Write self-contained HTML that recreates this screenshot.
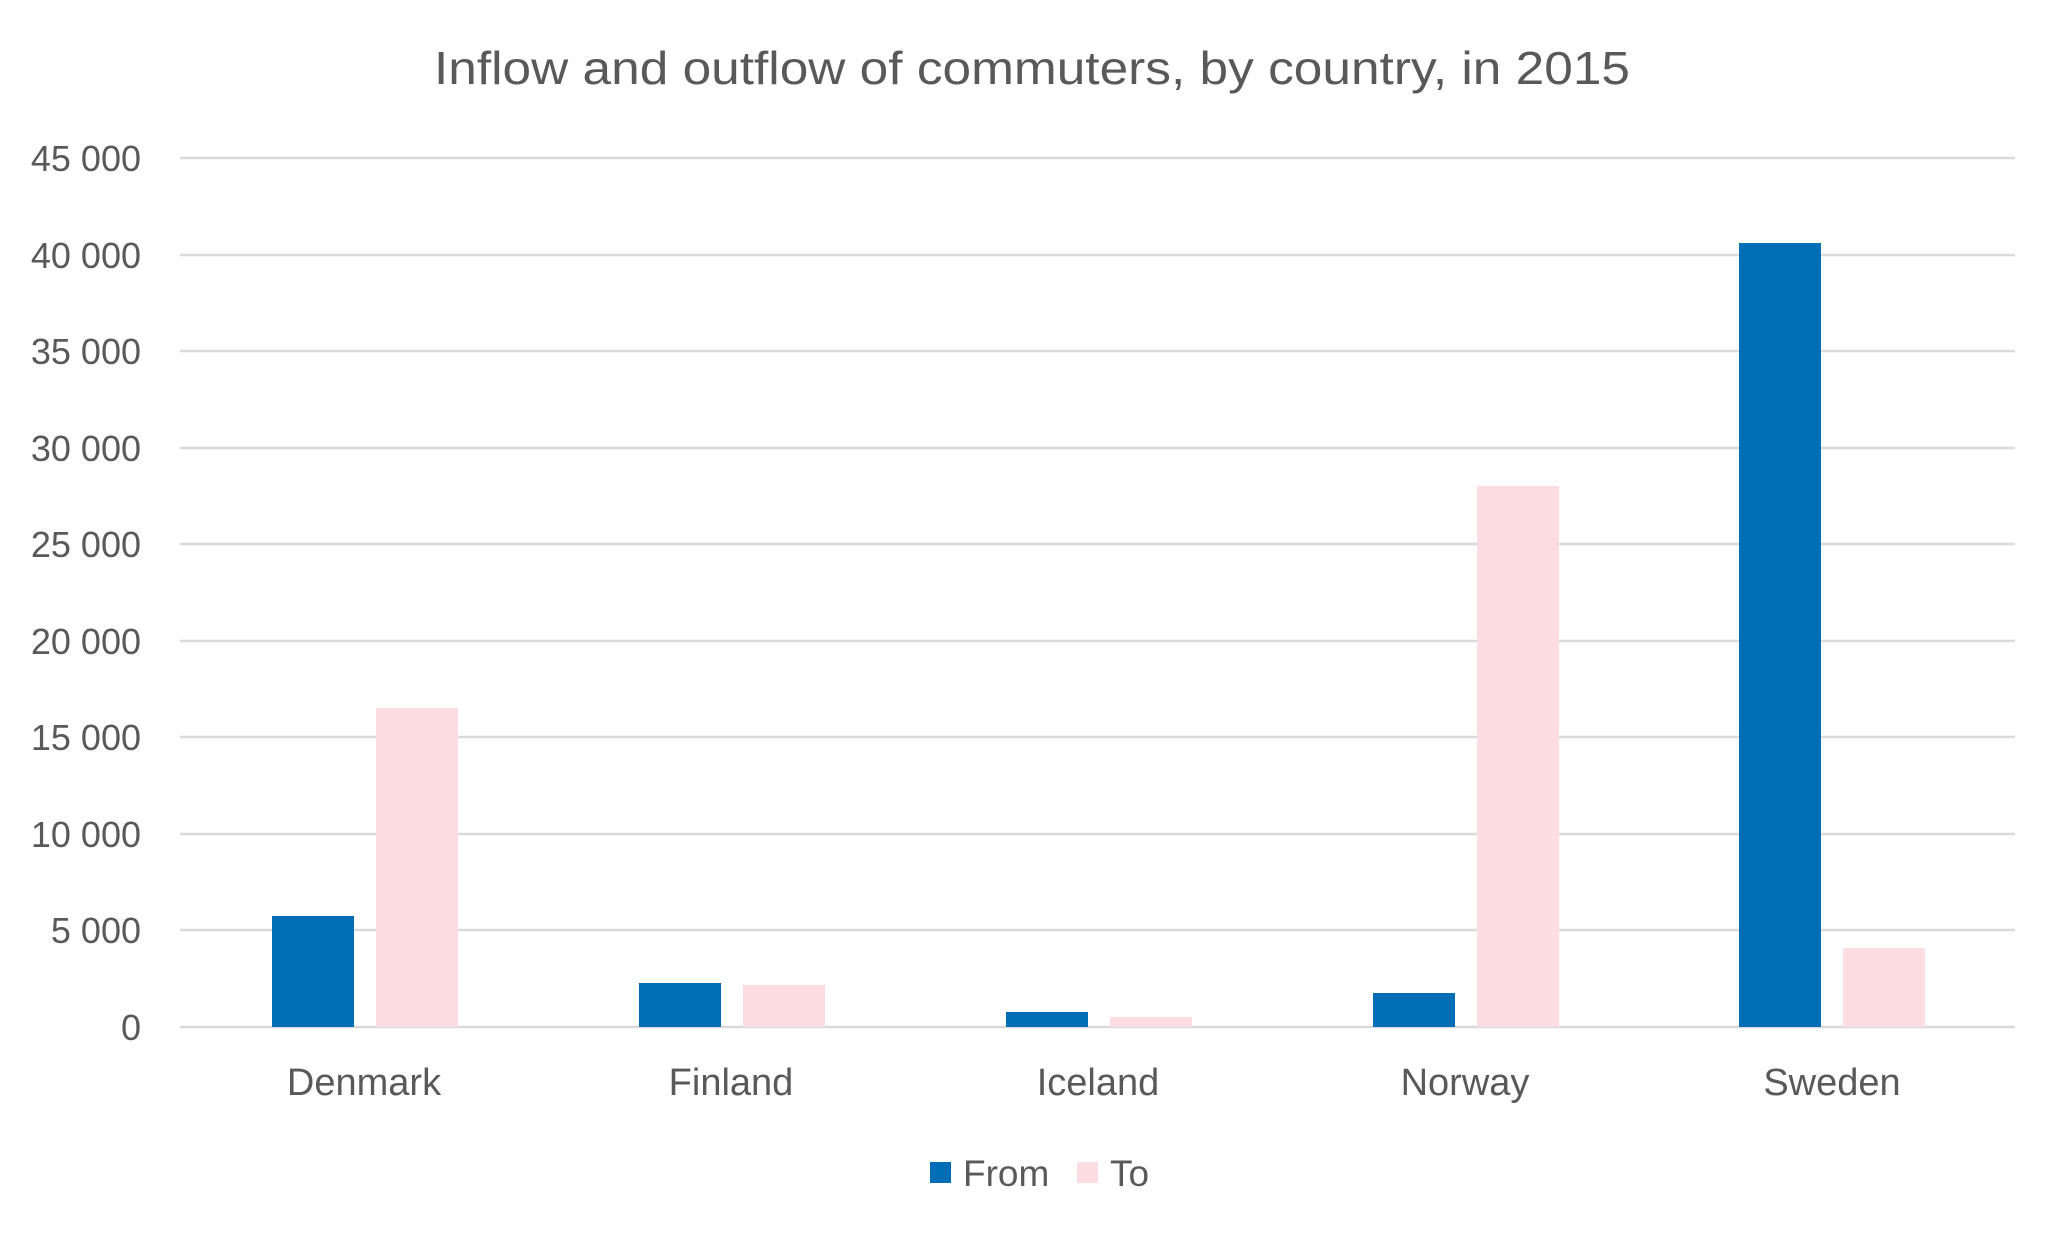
<!DOCTYPE html>
<html><head><meta charset="utf-8"><style>body{margin:0;background:#fff}svg{display:block}</style></head>
<body>
<svg width="2065" height="1239" xmlns="http://www.w3.org/2000/svg" font-family="Liberation Sans, sans-serif" fill="#595959">
<rect width="2065" height="1239" fill="#fff"/>
<text x="1032" y="84" font-size="46" text-anchor="middle" textLength="1196" lengthAdjust="spacingAndGlyphs">Inflow and outflow of commuters, by country, in 2015</text>
<g stroke="#d9d9d9" stroke-width="2.5">
<line x1="180" x2="2015" y1="158" y2="158"/>
<line x1="180" x2="2015" y1="255" y2="255"/>
<line x1="180" x2="2015" y1="351" y2="351"/>
<line x1="180" x2="2015" y1="448" y2="448"/>
<line x1="180" x2="2015" y1="544" y2="544"/>
<line x1="180" x2="2015" y1="641" y2="641"/>
<line x1="180" x2="2015" y1="737" y2="737"/>
<line x1="180" x2="2015" y1="834" y2="834"/>
<line x1="180" x2="2015" y1="930" y2="930"/>
<line x1="180" x2="2015" y1="1027" y2="1027"/>
</g>
<g font-size="36" text-anchor="end">
<text x="141" y="171">45 000</text>
<text x="141" y="268">40 000</text>
<text x="141" y="364">35 000</text>
<text x="141" y="461">30 000</text>
<text x="141" y="557">25 000</text>
<text x="141" y="654">20 000</text>
<text x="141" y="750">15 000</text>
<text x="141" y="847">10 000</text>
<text x="141" y="943">5 000</text>
<text x="141" y="1040">0</text>
</g>
<g fill="#006eb6">
<rect x="272" y="916" width="82" height="111"/>
<rect x="639" y="983" width="82" height="44"/>
<rect x="1006" y="1012" width="82" height="15"/>
<rect x="1373" y="993" width="82" height="34"/>
<rect x="1739" y="243" width="82" height="784"/>
</g>
<g fill="#fddce2">
<rect x="376" y="708" width="82" height="319"/>
<rect x="743" y="985" width="82" height="42"/>
<rect x="1110" y="1017" width="82" height="10"/>
<rect x="1477" y="486" width="82" height="541"/>
<rect x="1843" y="948" width="82" height="79"/>
</g>
<g font-size="38" text-anchor="middle">
<text x="364" y="1095">Denmark</text>
<text x="731" y="1095">Finland</text>
<text x="1098" y="1095">Iceland</text>
<text x="1465" y="1095">Norway</text>
<text x="1832" y="1095">Sweden</text>
</g>
<rect x="930" y="1162" width="21" height="21" fill="#006eb6"/>
<text x="963" y="1186" font-size="37">From</text>
<rect x="1077" y="1162" width="21" height="21" fill="#fddce2"/>
<text x="1110" y="1186" font-size="37">To</text>
</svg>
</body></html>
